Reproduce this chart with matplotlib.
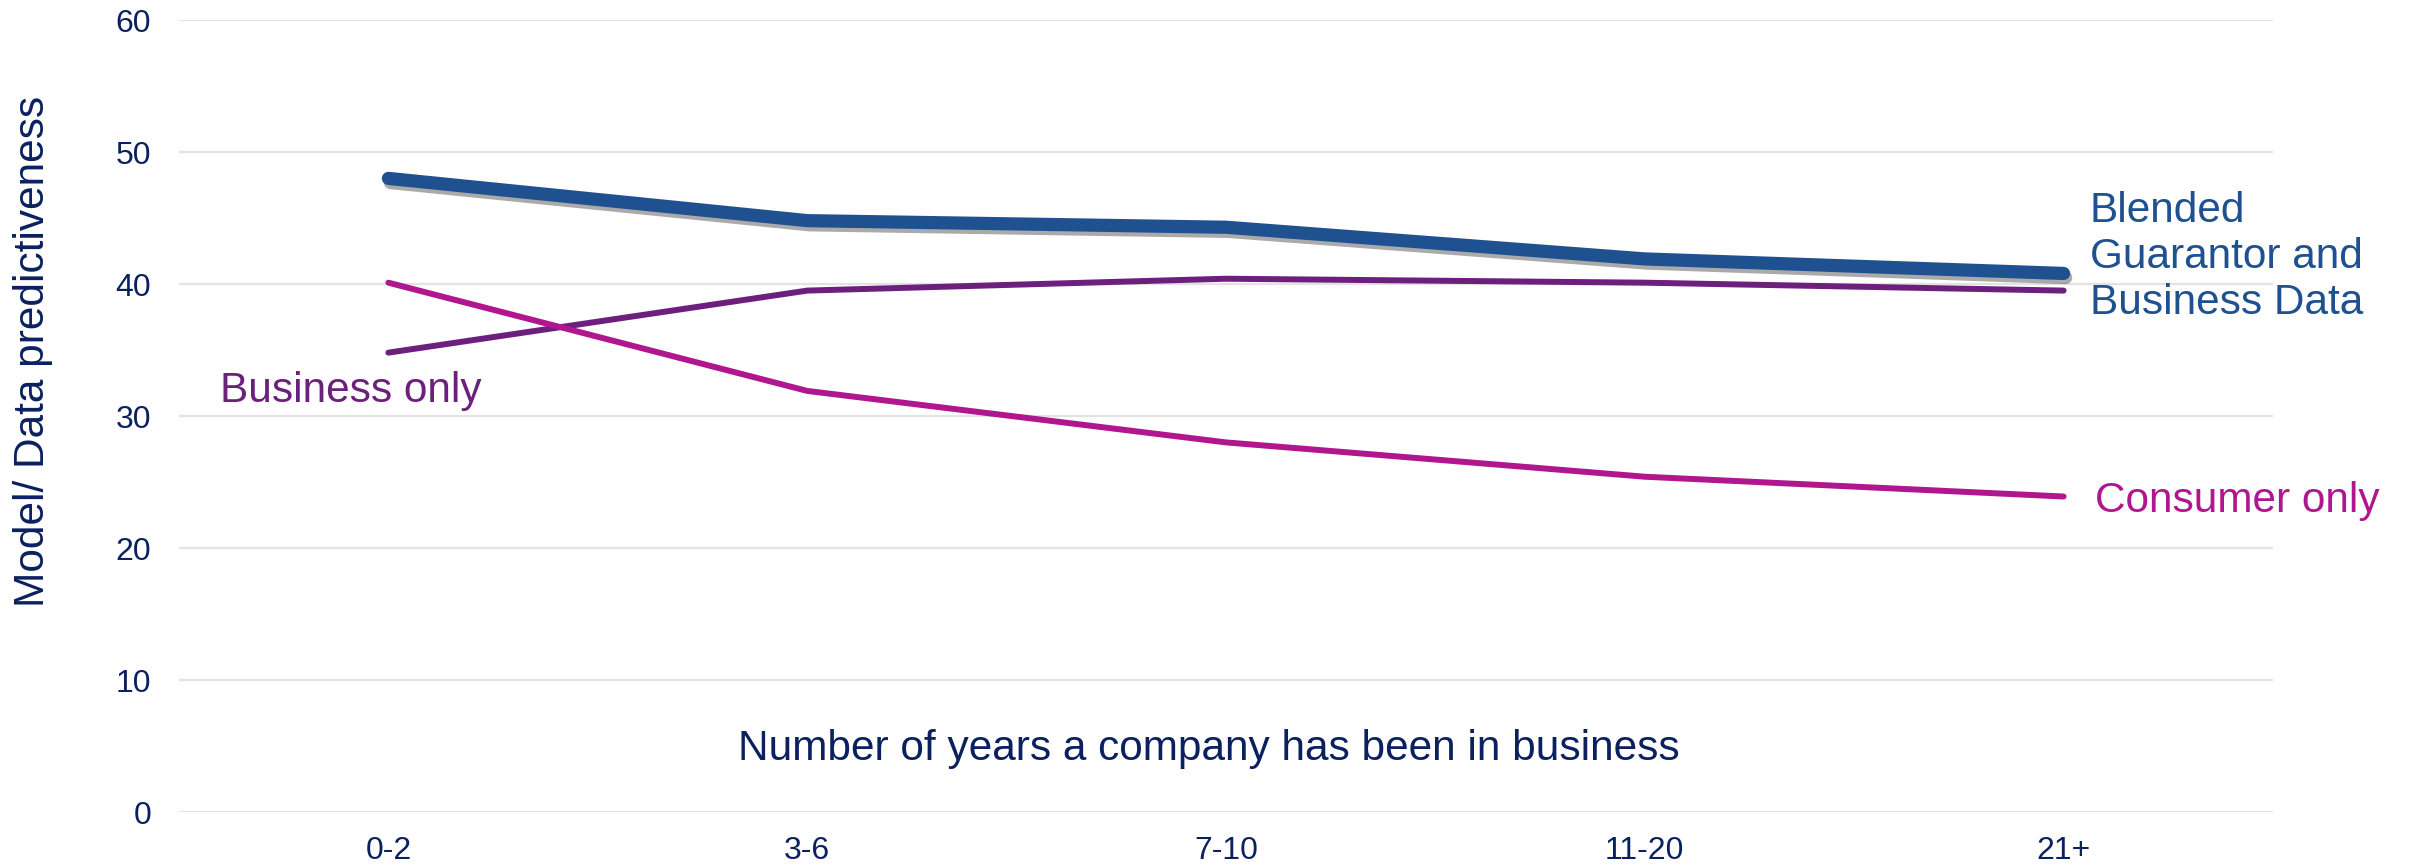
import matplotlib
matplotlib.use("Agg")
import matplotlib.pyplot as plt
import matplotlib.patheffects as pe

categories = ["0-2", "3-6", "7-10", "11-20", "21+"]
blended = [48.0, 44.8, 44.3, 41.9, 40.8]
business_only = [34.8, 39.5, 40.4, 40.1, 39.5]
consumer_only = [40.1, 31.9, 28.0, 25.4, 23.9]
yticks = [0, 10, 20, 30, 40, 50, 60]

NAVY = "#0B215F"
C_BLEND = "#1F5190"
C_BUS = "#6C1F7C"
C_CONS = "#B0168D"

plt.rcParams['font.family'] = ['Liberation Sans', 'DejaVu Sans']

fig = plt.figure(figsize=(24.13, 8.66), dpi=100)
ax = fig.add_axes([179/2413, 1-812/866, (2273-179)/2413, (812-20)/866])

x = list(range(len(categories)))
ax.plot(x, business_only, color=C_BUS, lw=4.3, solid_capstyle='round', solid_joinstyle='round', zorder=3)
ax.plot(x, consumer_only, color=C_CONS, lw=4.3, solid_capstyle='round', solid_joinstyle='round', zorder=4)
ax.plot(x, blended, color=C_BLEND, lw=9.5, solid_capstyle='round', solid_joinstyle='round', zorder=5,
        path_effects=[pe.SimpleLineShadow(offset=(1.5, -3), shadow_color='#444444', alpha=0.45),
                      pe.Normal()])

ax.set_xlim(-0.5, len(categories) - 0.5)
ax.set_ylim(0, 60)
ax.set_xticks(x)
ax.set_xticklabels(categories)
ax.set_yticks(yticks)
ax.tick_params(axis='both', length=0, labelsize=23, labelcolor=NAVY)
ax.tick_params(axis='x', pad=17)
ax.tick_params(axis='y', pad=20)
ax.grid(axis='y', color='#E3E3E3', lw=1.6)
ax.set_axisbelow(True)
for s in ax.spines.values():
    s.set_visible(False)

ax.set_ylabel("Model/ Data predictiveness", fontsize=30.5, color=NAVY, va='center')
ax.yaxis.set_label_coords(-0.0697, 0.581)

ax.text(2.0 - 0.04, 3.95, "Number of years a company has been in business", fontsize=30.5,
        color=NAVY, ha='center', va='baseline')

ax.text(-0.402, 31.06, "Business only", fontsize=30.5, color=C_BUS, ha='left', va='baseline')
ax.text(4.075, 22.75, "Consumer only", fontsize=30.5, color=C_CONS, ha='left', va='baseline', clip_on=False)
ax.text(4.063, 42.05, "Blended\nGuarantor and\nBusiness Data", fontsize=30.5, color=C_BLEND,
        ha='left', va='center', linespacing=1.2, clip_on=False)

fig.savefig("out.png", dpi=100)
